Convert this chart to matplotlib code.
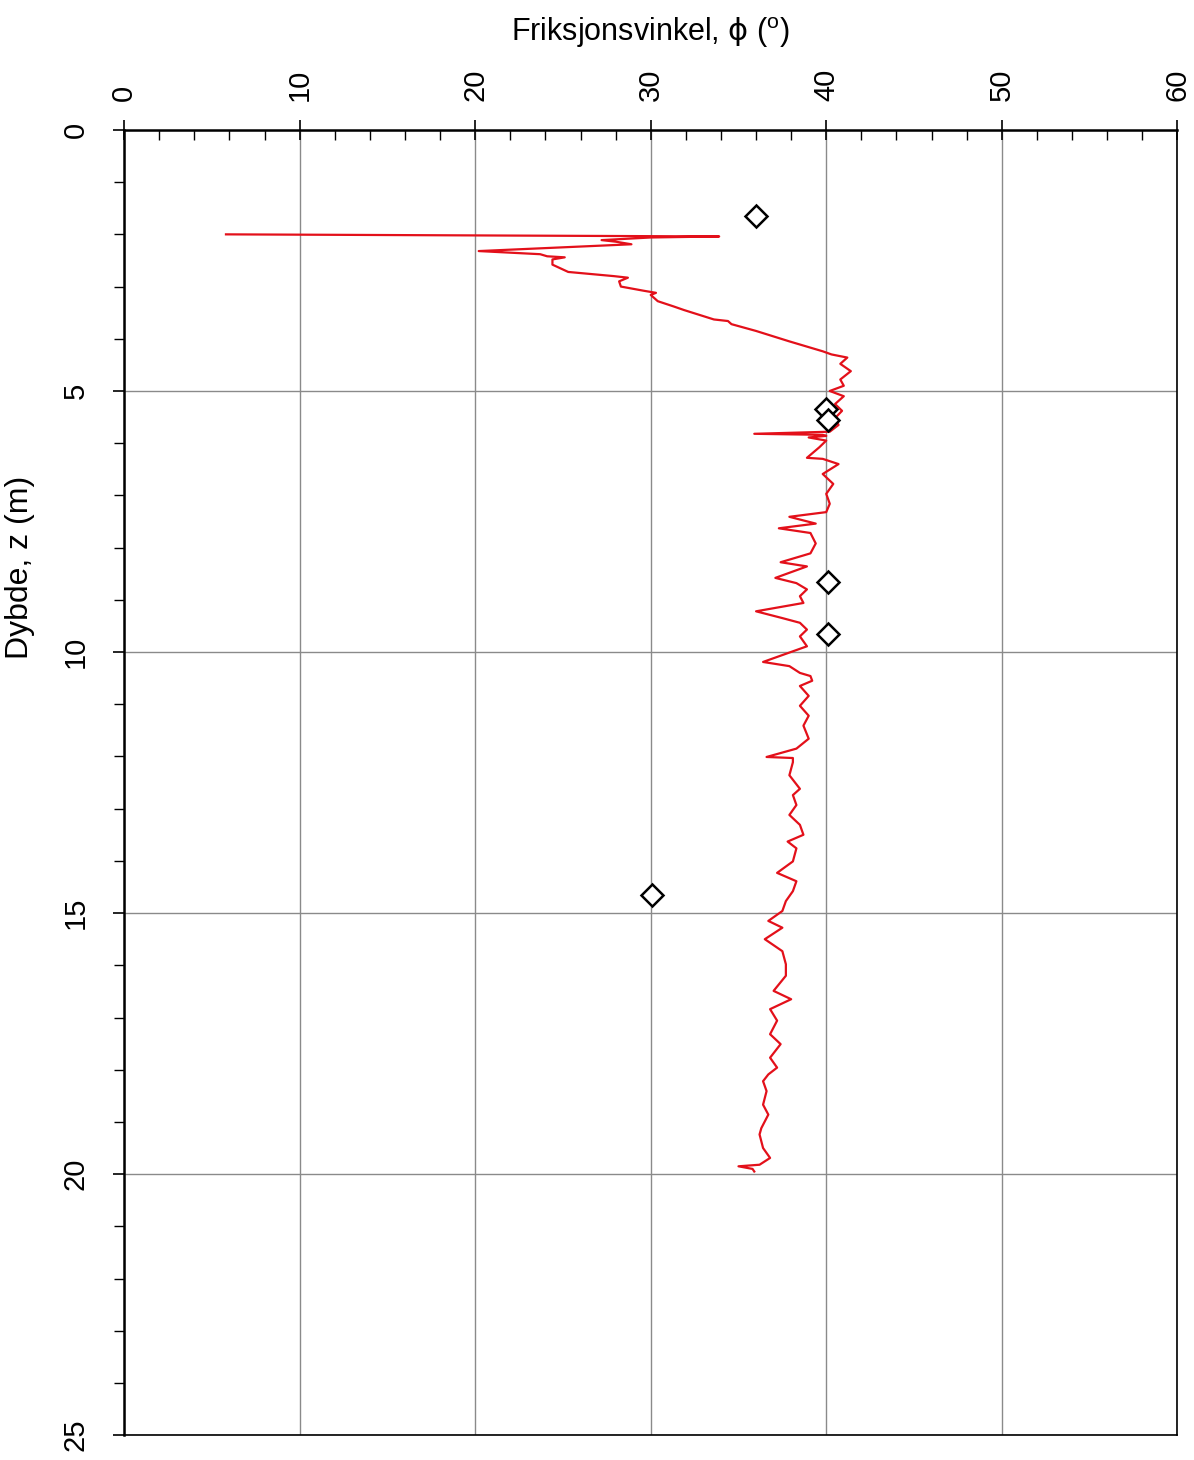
import matplotlib

matplotlib.use("Agg")
import matplotlib.pyplot as plt
from matplotlib.ticker import MultipleLocator

plt.rcParams["font.family"] = ["Liberation Sans", "DejaVu Sans"]
plt.rcParams["mathtext.fontset"] = "custom"
plt.rcParams["mathtext.rm"] = "Liberation Sans"
plt.rcParams["mathtext.it"] = "DejaVu Sans"

# CPT-derived friction angle profile (phi in degrees, depth in m)
phi = [
    5.8, 33.9, 30.0, 27.2, 28.0, 28.9, 20.2, 23.7, 24.1, 25.1, 24.4, 24.4,
    25.3, 27.9, 28.7, 28.2, 28.3, 29.6, 30.3, 30.0, 30.4, 31.3, 31.9, 33.6,
    34.4, 34.6, 36.0, 37.9, 39.8, 40.3, 41.2, 40.8, 41.4, 40.8, 41.0, 40.2,
    41.0, 40.5, 40.9, 40.5, 40.7, 40.2, 35.9, 39.8, 40.0, 39.0, 40.0, 39.6,
    38.9, 39.8, 40.7, 39.8, 40.4, 40.0, 40.2, 40.0, 37.9, 39.4, 37.3, 39.1,
    39.4, 39.1, 37.4, 38.9, 37.1, 38.3, 38.9, 38.5, 38.7, 36.0, 37.5, 38.5,
    38.9, 38.5, 38.9, 36.4, 37.9, 38.5, 39.1, 39.2, 38.5, 39.0, 38.5, 39.0,
    38.7, 39.0, 38.3, 36.6, 38.1, 38.1, 37.9, 38.5, 38.1, 38.3, 37.9, 38.5,
    38.7, 37.8, 38.3, 38.1, 37.2, 38.3, 38.1, 37.7, 37.5, 36.7, 37.5, 36.5,
    37.5, 37.7, 37.7, 37.0, 38.0, 36.8, 37.2, 36.8, 37.4, 36.8, 37.2, 36.7,
    36.4, 36.6, 36.4, 36.7, 36.3, 36.2, 36.4, 36.8, 36.2, 35.0, 35.8, 35.9,
]
depth = [
    2.00, 2.04, 2.06, 2.11, 2.14, 2.19, 2.32, 2.38, 2.42, 2.44, 2.48, 2.58,
    2.72, 2.80, 2.83, 2.90, 3.00, 3.08, 3.12, 3.16, 3.28, 3.38, 3.45, 3.63,
    3.66, 3.72, 3.85, 4.05, 4.24, 4.30, 4.36, 4.48, 4.62, 4.78, 4.90, 5.00,
    5.10, 5.25, 5.38, 5.52, 5.65, 5.78, 5.82, 5.84, 5.86, 5.89, 5.95, 6.08,
    6.28, 6.30, 6.40, 6.59, 6.78, 6.97, 7.16, 7.32, 7.41, 7.54, 7.63, 7.72,
    7.92, 8.11, 8.28, 8.36, 8.58, 8.68, 8.80, 8.93, 9.06, 9.22, 9.35, 9.44,
    9.57, 9.70, 9.89, 10.19, 10.27, 10.40, 10.46, 10.55, 10.65, 10.84, 11.03, 11.22,
    11.41, 11.66, 11.85, 12.01, 12.03, 12.11, 12.36, 12.62, 12.74, 12.93, 13.12, 13.31,
    13.50, 13.63, 13.76, 14.01, 14.23, 14.39, 14.58, 14.77, 14.96, 15.15, 15.28, 15.50,
    15.73, 15.98, 16.20, 16.49, 16.65, 16.84, 17.06, 17.32, 17.51, 17.77, 17.96, 18.09,
    18.22, 18.41, 18.67, 18.86, 19.12, 19.24, 19.50, 19.69, 19.82, 19.85, 19.90, 19.95,
]

# Laboratory / reference points
lab_phi = [36.0, 40.0, 40.1, 40.1, 40.1, 30.1]
lab_depth = [1.65, 5.35, 5.55, 8.65, 9.65, 14.65]

fig = plt.figure(figsize=(11.94, 14.6), dpi=100)
ax = fig.add_axes([0.104, 0.017, 0.882, 0.894])

ax.plot(phi, depth, color="#e3101a", lw=1.6, zorder=3)
ax.plot(lab_phi, lab_depth, linestyle="none", marker="D", ms=11, mfc="white",
        mec="black", mew=1.8, zorder=4)

ax.set_xlim(0, 60)
ax.set_ylim(25, 0)
ax.xaxis.tick_top()
ax.xaxis.set_label_position("top")
ax.xaxis.set_major_locator(MultipleLocator(10))
ax.xaxis.set_minor_locator(MultipleLocator(2))
ax.yaxis.set_major_locator(MultipleLocator(5))
ax.yaxis.set_minor_locator(MultipleLocator(1))

ax.grid(which="major", color="#8a8a8a", lw=1.0, zorder=1)
ax.tick_params(axis="x", which="major", direction="inout", length=14, width=1.2,
               labelsize=21, labelrotation=90, pad=14)
ax.tick_params(axis="x", which="minor", direction="in", length=7, width=1.0)
ax.tick_params(axis="y", which="major", direction="out", length=8, width=1.2,
               labelsize=21, labelrotation=90, pad=17)
ax.tick_params(axis="y", which="minor", direction="out", length=7, width=1.0)
for lbl in ax.get_yticklabels():
    lbl.set_verticalalignment("center")

for side in ["top", "left"]:
    ax.spines[side].set_linewidth(1.8)
for side in ["bottom", "right"]:
    ax.spines[side].set_linewidth(1.2)

ax.set_xlabel(r"Friksjonsvinkel, $\phi$ ($^{\rm o}$)", fontsize=22, labelpad=20)
ax.set_ylabel("Dybde, z (m)", fontsize=23, labelpad=16)
ax.yaxis.set_label_coords(-0.085, 0.665)

fig.savefig("out.png", dpi=100)
